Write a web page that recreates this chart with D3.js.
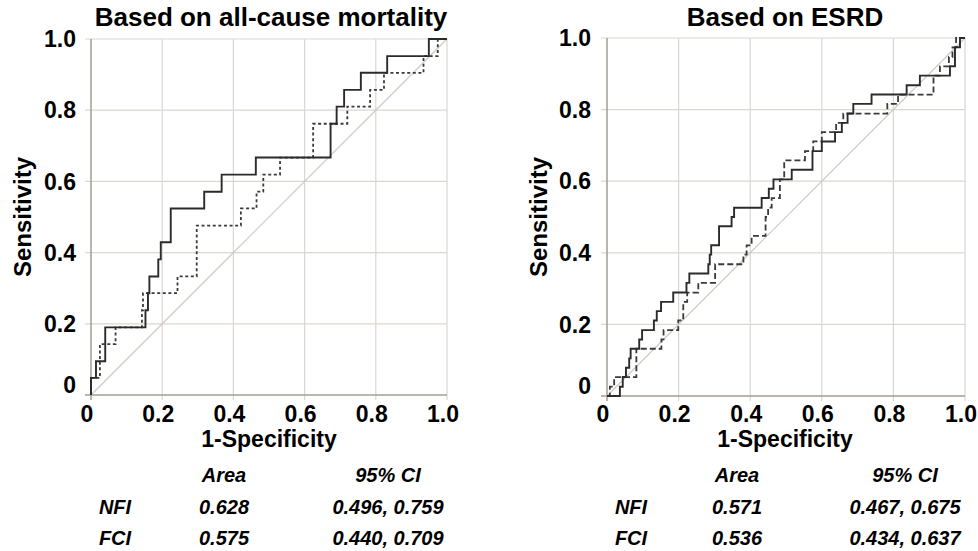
<!DOCTYPE html>
<html>
<head>
<meta charset="utf-8">
<script src="https://cdn.jsdelivr.net/npm/d3@7/dist/d3.min.js"></script>
<style>
  html, body { margin: 0; padding: 0; background: #fff; }
  svg { display: block; }
  text { font-family: "Liberation Sans", Arial, Helvetica, sans-serif; font-weight: bold; fill: #000; }
</style>
</head>
<body>
<svg id="chart" width="978" height="551"></svg>
<script>
// ---------- data ----------
const axisTicks = [0, 0.2, 0.4, 0.6, 0.8, 1.0];
const axisTickLabels = ["0", "0.2", "0.4", "0.6", "0.8", "1.0"];

const panelTitles = ["Based on all-cause mortality", "Based on ESRD"];
const xAxisTitle = "1-Specificity";
const yAxisTitle = "Sensitivity";

// All-cause mortality: NFI (solid)
const mortNFI_fpr = [0, 0, 0.014, 0.040, 0.153, 0.160, 0.164, 0.189, 0.196, 0.224, 0.318, 0.367, 0.463, 0.673, 0.690, 0.711, 0.758, 0.832, 0.949, 1.0];
const mortNFI_tpr = [0, 0.048, 0.095, 0.190, 0.238, 0.286, 0.333, 0.381, 0.429, 0.524, 0.571, 0.619, 0.667, 0.762, 0.810, 0.857, 0.905, 0.952, 1.0, 1.0];
// All-cause mortality: FCI (dashed)
const mortFCI_fpr = [0, 0, 0.025, 0.069, 0.143, 0.146, 0.243, 0.297, 0.421, 0.465, 0.484, 0.531, 0.624, 0.720, 0.784, 0.823, 0.934, 0.974, 1.0];
const mortFCI_tpr = [0, 0.048, 0.143, 0.190, 0.238, 0.286, 0.333, 0.476, 0.524, 0.571, 0.619, 0.667, 0.762, 0.810, 0.857, 0.905, 0.952, 1.0, 1.0];

// ESRD: NFI (solid)
const esrdNFI_fpr = [0, 0.036, 0.044, 0.053, 0.062, 0.066, 0.090, 0.098, 0.131, 0.139, 0.151, 0.185, 0.222, 0.230, 0.283, 0.287, 0.291, 0.313, 0.348, 0.355, 0.432, 0.452, 0.465, 0.516, 0.574, 0.600, 0.637, 0.656, 0.672, 0.688, 0.739, 0.837, 0.874, 0.958, 0.972, 0.986, 1.0];
const esrdNFI_tpr = [0, 0.026, 0.053, 0.079, 0.105, 0.132, 0.158, 0.184, 0.211, 0.237, 0.263, 0.289, 0.316, 0.342, 0.368, 0.395, 0.421, 0.474, 0.500, 0.526, 0.553, 0.579, 0.605, 0.632, 0.684, 0.711, 0.737, 0.763, 0.789, 0.816, 0.842, 0.868, 0.895, 0.921, 0.974, 1.0, 1.0];
// ESRD: FCI (dashed)
const esrdFCI_fpr = [0, 0.008, 0.020, 0.082, 0.152, 0.158, 0.199, 0.213, 0.224, 0.255, 0.302, 0.381, 0.390, 0.404, 0.443, 0.450, 0.460, 0.483, 0.495, 0.553, 0.576, 0.600, 0.640, 0.660, 0.783, 0.813, 0.912, 0.930, 0.955, 0.965, 0.975, 1.0];
const esrdFCI_tpr = [0, 0.026, 0.053, 0.132, 0.158, 0.184, 0.211, 0.263, 0.289, 0.316, 0.368, 0.395, 0.421, 0.447, 0.500, 0.526, 0.553, 0.605, 0.658, 0.684, 0.711, 0.737, 0.763, 0.789, 0.816, 0.842, 0.895, 0.921, 0.947, 0.974, 1.0, 1.0];

// Tables
const tableHeaders = ["Area", "95% CI"];
const tableRowLabels = ["NFI", "FCI"];
const mortArea = ["0.628", "0.575"];
const mortCI = ["0.496, 0.759", "0.440, 0.709"];
const esrdArea = ["0.571", "0.536"];
const esrdCI = ["0.467, 0.675", "0.434, 0.637"];

// ---------- drawing ----------
const svg = d3.select("#chart");
svg.append("rect").attr("width", 978).attr("height", 551).attr("fill", "#fff");

const zip = (a, b) => a.map((v, i) => [v, b[i]]);

const panels = [
  {
    title: panelTitles[0], xr: [91, 447], yr: [395, 39],
    solid: zip(mortNFI_fpr, mortNFI_tpr), dashed: zip(mortFCI_fpr, mortFCI_tpr), dash: "3,2.6",
    titleX: 271, ylabX: 22, ytickX: 76, xlabX: 269,
    tbl: { area: mortArea, ci: mortCI, rowX: 115, areaX: 224, ciX: 388 }
  },
  {
    title: panelTitles[1], xr: [607, 965], yr: [396, 38],
    solid: zip(esrdNFI_fpr, esrdNFI_tpr), dashed: zip(esrdFCI_fpr, esrdFCI_tpr), dash: "6,3",
    titleX: 785, ylabX: 538, ytickX: 591, xlabX: 785,
    tbl: { area: esrdArea, ci: esrdCI, rowX: 631, areaX: 737, ciX: 905 }
  }
];

const gridColor = "#dcd6d0";
const axisColor = "#a59d96";

panels.forEach(p => {
  const x = d3.scaleLinear().domain([0, 1]).range(p.xr);
  const y = d3.scaleLinear().domain([0, 1]).range(p.yr);
  const g = svg.append("g");

  // grid lines (with small outward ticks)
  g.selectAll("line.vg").data(axisTicks.slice(1)).join("line")
    .attr("x1", d => x(d)).attr("x2", d => x(d))
    .attr("y1", y(0) + 5).attr("y2", y(1))
    .attr("stroke", gridColor).attr("stroke-width", 1.2);
  g.selectAll("line.hg").data(axisTicks.slice(1)).join("line")
    .attr("x1", x(0) - 6).attr("x2", x(1))
    .attr("y1", d => y(d)).attr("y2", d => y(d))
    .attr("stroke", gridColor).attr("stroke-width", 1.2);

  // axes
  g.append("line").attr("x1", x(0)).attr("x2", x(0)).attr("y1", y(0) + 5).attr("y2", y(1))
    .attr("stroke", axisColor).attr("stroke-width", 1.5);
  g.append("line").attr("x1", x(0) - 6).attr("x2", x(1)).attr("y1", y(0)).attr("y2", y(0))
    .attr("stroke", axisColor).attr("stroke-width", 1.5);

  // diagonal reference
  g.append("line").attr("x1", x(0)).attr("y1", y(0)).attr("x2", x(1)).attr("y2", y(1))
    .attr("stroke", "#cfc8c2").attr("stroke-width", 1.2);

  const line = d3.line().x(d => x(d[0])).y(d => y(d[1])).curve(d3.curveStepAfter);

  g.append("path").attr("d", line(p.dashed)).attr("fill", "none")
    .attr("stroke", "#3a3a3a").attr("stroke-width", 1.8).attr("stroke-dasharray", p.dash);
  g.append("path").attr("d", line(p.solid)).attr("fill", "none")
    .attr("stroke", "#2b2b2b").attr("stroke-width", 1.9);

  // title
  g.append("text").attr("x", p.titleX).attr("y", 26).attr("text-anchor", "middle")
    .attr("font-size", 26).text(p.title);

  // y tick labels
  g.selectAll("text.yt").data(axisTicks).join("text")
    .attr("x", p.ytickX).attr("y", (d, i) => y(d) + (i === 0 ? -10 : 0))
    .attr("dy", "0.36em").attr("text-anchor", "end").attr("font-size", 23)
    .text((d, i) => axisTickLabels[i]);

  // x tick labels
  g.selectAll("text.xt").data(axisTicks).join("text")
    .attr("x", d => x(d) - 4).attr("y", 422).attr("text-anchor", "middle").attr("font-size", 23)
    .text((d, i) => axisTickLabels[i]);

  // axis titles
  g.append("text").attr("x", p.xlabX).attr("y", 447).attr("text-anchor", "middle")
    .attr("font-size", 23).text(xAxisTitle);
  g.append("text").attr("transform", `translate(${p.ylabX},217) rotate(-90)`)
    .attr("text-anchor", "middle").attr("font-size", 24).attr("dy", "0.36em").text(yAxisTitle);

  // table
  const t = p.tbl;
  const tg = g.append("g");
  const cell = (xx, yy, s) => tg.append("text").attr("x", xx).attr("y", yy)
    .attr("text-anchor", "middle").attr("font-style", "italic").attr("font-size", 20).text(s);
  cell(t.areaX, 482, tableHeaders[0]);
  cell(t.ciX, 482, tableHeaders[1]);
  tableRowLabels.forEach((r, i) => {
    const yy = 514 + i * 31;
    cell(t.rowX, yy, r);
    cell(t.areaX, yy, t.area[i]);
    cell(t.ciX, yy, t.ci[i]);
  });
});
</script>
</body>
</html>
